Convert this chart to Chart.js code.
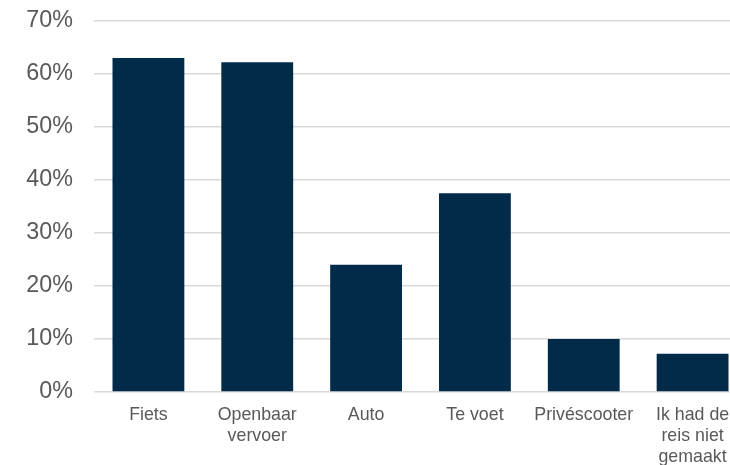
<!DOCTYPE html>
<html>
<head>
<meta charset="utf-8">
<script src="https://cdn.jsdelivr.net/npm/chart.js@4.4.1/dist/chart.umd.min.js"></script>
<style>
  html, body { margin: 0; padding: 0; background: #ffffff; overflow: hidden; }
  #grafico { display: block; }
</style>
</head>
<body>
<canvas id="grafico" width="760" height="465"></canvas>
<script>
// vervoerswijzen en aandeel (%)
var categorieen = ['Fiets', ['Openbaar', 'vervoer'], 'Auto', 'Te voet', 'Privéscooter', ['Ik had de', 'reis niet', 'gemaakt']];
var percentages = [63, 62.2, 24, 37.5, 10, 7.2];
var yTicks = [0, 10, 20, 30, 40, 50, 60, 70];

var kleur = '#022b4a';

var html = document.getElementById('grafico');

var grafico = new Chart(html, {
    type: 'bar',
    data: {
        labels: categorieen,
        datasets: [{
            data: percentages,
            backgroundColor: kleur,
            borderWidth: 0,
            barPercentage: 1,
            categoryPercentage: 0.66
        }]
    },
    options: {
        responsive: false,
        animation: false,
        layout: {
            padding: { top: 21, right: 13, left: 0, bottom: 0 }
        },
        plugins: {
            legend: { display: false },
            tooltip: { enabled: false }
        },
        scales: {
            x: {
                grid: { display: false, drawTicks: false },
                border: { display: false },
                ticks: {
                    color: '#595959',
                    padding: 12,
                    maxRotation: 0,
                    autoSkip: false,
                    font: { family: 'Liberation Sans, Arial', size: 17.8, lineHeight: 1.2 }
                },
                afterFit: function (scale) { scale.height = 73; }
            },
            y: {
                min: 0,
                max: 70,
                afterBuildTicks: function (scale) {
                    scale.ticks = yTicks.map(function (v) { return { value: v }; });
                },
                // onzichtbare tickmarks als afstand tussen label en rasterlijn
                grid: { color: '#d9d9d9', lineWidth: 1.5, drawTicks: true, tickLength: 21, tickColor: 'rgba(0,0,0,0)' },
                border: { display: false },
                ticks: {
                    color: '#595959',
                    padding: 0,
                    font: { family: 'Liberation Sans, Arial', size: 23.3 },
                    callback: function (v) { return v + '%'; }
                },
                afterFit: function (scale) { scale.width = 94; }
            }
        }
    }
});
</script>
</body>
</html>
